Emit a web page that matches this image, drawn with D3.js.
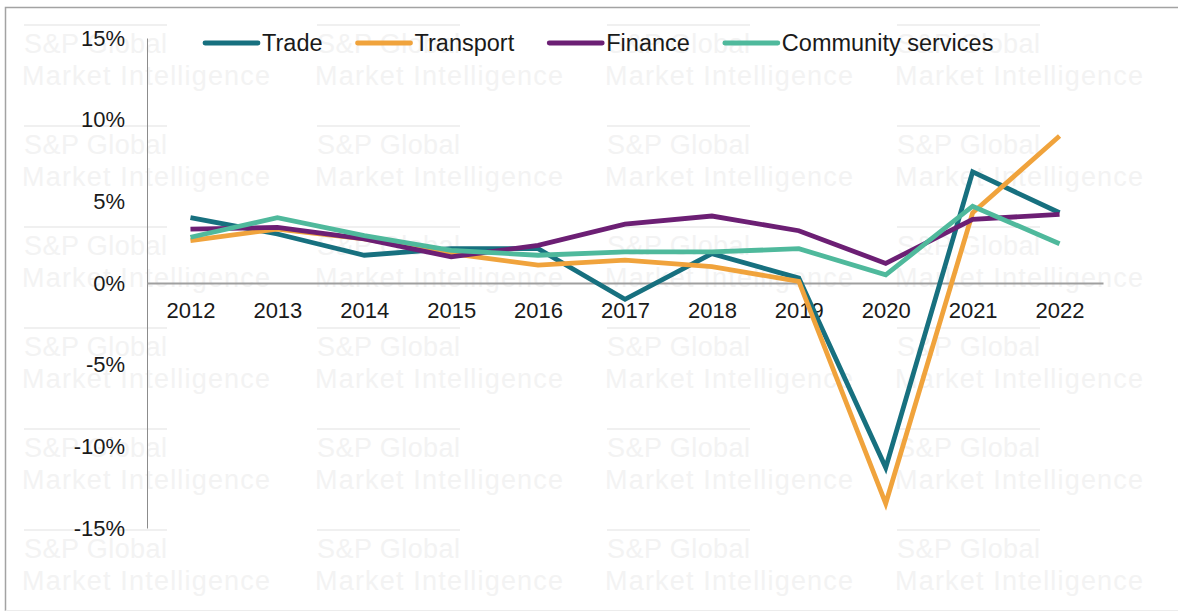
<!DOCTYPE html>
<html>
<head>
<meta charset="utf-8">
<script src="https://cdn.jsdelivr.net/npm/d3@7/dist/d3.min.js"></script>
<style>
  html, body { margin: 0; padding: 0; background: #fff; }
  svg { display: block; font-family: "Liberation Sans", Arial, sans-serif; }
</style>
</head>
<body>
<svg id="chart" width="1178" height="613"></svg>
<script>
// Annual growth by sector, 2012-2022 (%)
const years = ["2012", "2013", "2014", "2015", "2016", "2017", "2018", "2019", "2020", "2021", "2022"];
const trade     = [4.0, 3.0, 1.7, 2.1, 2.1, -1.0, 1.8, 0.3, -11.3, 6.8, 4.3];
const transport = [2.6, 3.3, 2.7, 1.8, 1.1, 1.4, 1.0, 0.1, -13.5, 4.3, 9.0];
const finance   = [3.3, 3.4, 2.7, 1.6, 2.3, 3.6, 4.1, 3.2, 1.2, 3.9, 4.2];
const community = [2.8, 4.0, 2.9, 2.0, 1.7, 1.9, 1.9, 2.1, 0.5, 4.7, 2.4];
const yTicks = [-15, -10, -5, 0, 5, 10, 15];

const seriesNames  = ["Trade", "Transport", "Finance", "Community services"];
const seriesValues = [trade, transport, finance, community];
const seriesColors = ["#17707f", "#f0a33c", "#6c1f74", "#4fb99c"];

const series = seriesNames.map((name, i) => ({
  name,
  color: seriesColors[i],
  values: years.map((yr, j) => ({ year: yr, value: seriesValues[i][j] }))
}));

const svg = d3.select("#chart");

// Outer frame
svg.append("path")
  .attr("d", "M5.5,611 V7.5 H1180")
  .attr("fill", "none")
  .attr("stroke", "#a3a3a3")
  .attr("stroke-width", 1.5);
svg.append("line")
  .attr("x1", 5.5).attr("x2", 1180).attr("y1", 610.5).attr("y2", 610.5)
  .attr("stroke", "#ececec").attr("stroke-width", 1);

// Repeated faint publisher marks in the background
const markCols = [22, 315, 605, 895];
const markRows = [25, 126, 227, 328, 429, 530];
const marks = svg.append("g").attr("class", "marks");
markRows.forEach(ry => {
  markCols.forEach(cx => {
    const g = marks.append("g").attr("transform", `translate(${cx},${ry})`);
    g.append("line")
      .attr("x1", 2).attr("x2", 145).attr("y1", 0).attr("y2", 0)
      .attr("stroke", "#ebebeb").attr("stroke-width", 1.5);
    g.append("text")
      .attr("x", 2).attr("y", 28)
      .attr("font-size", 27)
      .attr("fill", "#f3f3f3")
      .attr("textLength", 143)
      .text("S&P Global");
    g.append("text")
      .attr("x", 0).attr("y", 60)
      .attr("font-size", 27)
      .attr("fill", "#f3f3f3")
      .attr("textLength", 248)
      .text("Market Intelligence");
  });
});

// Scales
const x = d3.scalePoint().domain(years).range([147, 1103]).padding(0.5);
const y = d3.scaleLinear().domain([-15, 15]).range([528, 38]);

// Y axis
const yAxis = svg.append("g")
  .attr("transform", "translate(147,0)")
  .call(d3.axisLeft(y).tickValues(yTicks).tickSize(0).tickPadding(22).tickFormat(d => d + "%"));
yAxis.select(".domain").attr("stroke", "#8c8c8c").attr("stroke-width", 1);
yAxis.selectAll("text")
  .attr("font-size", 22)
  .attr("fill", "#1a1a1a")
  .attr("font-family", "'Liberation Sans', Arial, sans-serif");

// X axis along the zero line
const xAxis = svg.append("g")
  .attr("transform", `translate(0,${y(0)})`)
  .call(d3.axisBottom(x).tickSize(0).tickSizeOuter(0).tickPadding(19));
xAxis.select(".domain").attr("stroke", "#a0a0a0").attr("stroke-width", 2);
xAxis.selectAll("text")
  .attr("font-size", 22)
  .attr("fill", "#1a1a1a")
  .attr("font-family", "'Liberation Sans', Arial, sans-serif");

// Lines
const line = d3.line()
  .x(d => x(d.year))
  .y(d => y(d.value));

svg.append("g").selectAll("path")
  .data(series)
  .join("path")
  .attr("d", d => line(d.values))
  .attr("fill", "none")
  .attr("stroke", d => d.color)
  .attr("stroke-width", 4.8)
  .attr("stroke-linejoin", "miter")
  .attr("stroke-linecap", "butt");

// Legend
const legend = svg.append("g").attr("transform", "translate(205,43)");
let lx = 0;
series.forEach(s => {
  const item = legend.append("g").attr("transform", `translate(${lx},0)`);
  item.append("line")
    .attr("x1", 0).attr("x2", 53).attr("y1", 0).attr("y2", 0)
    .attr("stroke", s.color).attr("stroke-width", 4.8).attr("stroke-linecap", "round");
  const t = item.append("text")
    .attr("x", 57).attr("y", 8)
    .attr("font-size", 23.5)
    .attr("fill", "#1a1a1a")
    .text(s.name);
  lx += 57 + t.node().getComputedTextLength() + 35;
});
</script>
</body>
</html>
